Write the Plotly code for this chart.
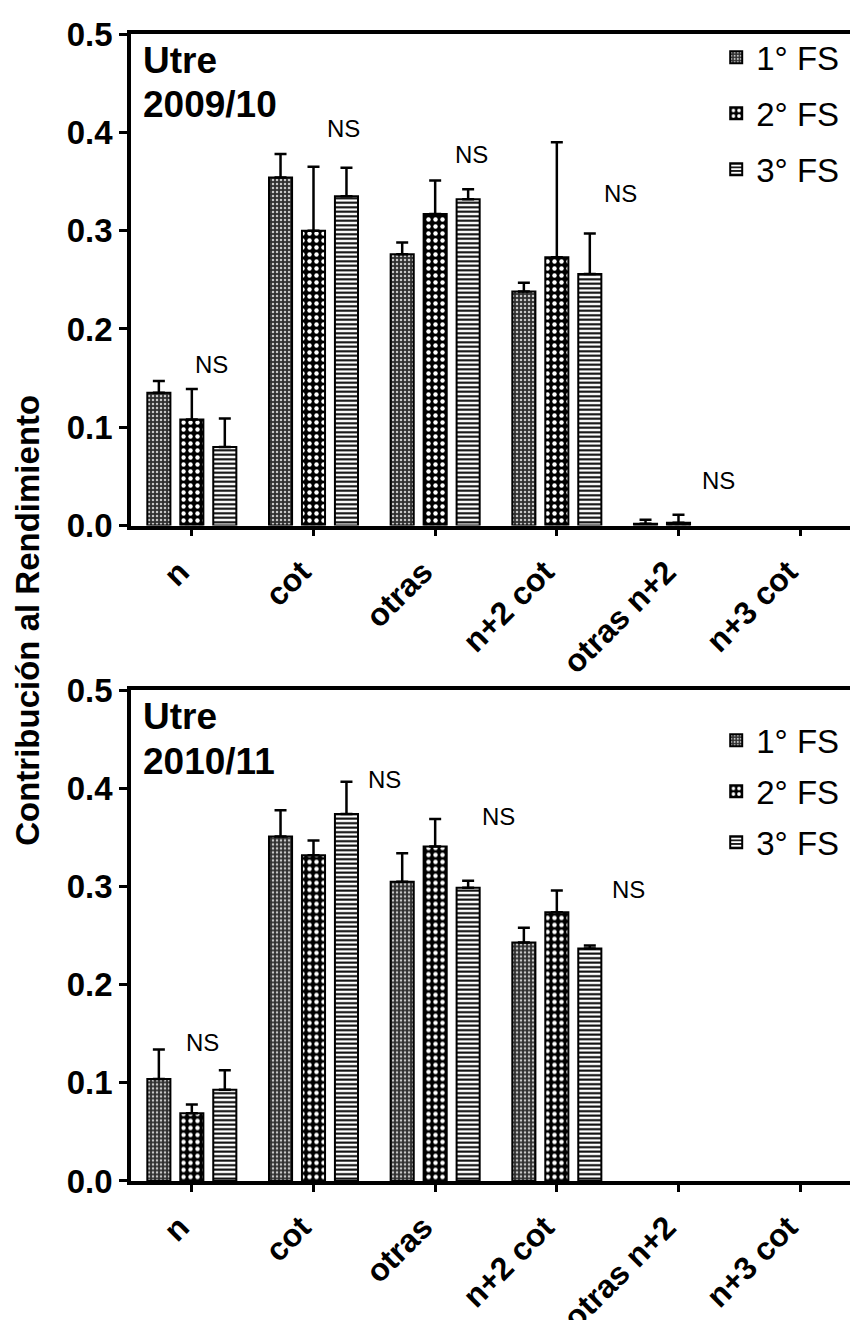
import numpy as np
import plotly.graph_objects as go
from plotly.subplots import make_subplots

categories = ["n", "cot", "otras", "n+2 cot", "otras n+2", "n+3 cot"]
series_names = ["1° FS", "2° FS", "3° FS"]

# Utre 2009/10  (None = no visible bar / error bar)
fs1_0910 = [0.135, 0.354, 0.276, 0.238, 0.002, None]
fs1_0910_err = [0.012, 0.024, 0.012, 0.009, 0.004, None]
fs2_0910 = [0.108, 0.300, 0.317, 0.273, 0.003, None]
fs2_0910_err = [0.031, 0.065, 0.034, 0.117, 0.008, None]
fs3_0910 = [0.080, 0.335, 0.332, 0.256, None, None]
fs3_0910_err = [0.029, 0.029, 0.010, 0.041, None, None]

# Utre 2010/11
fs1_1011 = [0.104, 0.351, 0.305, 0.243, None, None]
fs1_1011_err = [0.030, 0.027, 0.029, 0.015, None, None]
fs2_1011 = [0.069, 0.332, 0.341, 0.274, None, None]
fs2_1011_err = [0.009, 0.015, 0.028, 0.022, None, None]
fs3_1011 = [0.093, 0.374, 0.299, 0.237, None, None]
fs3_1011_err = [0.020, 0.033, 0.007, 0.003, None, None]

panel_site = ["Utre", "Utre"]
panel_season = ["2009/10", "2010/11"]
y_ticks = [0.0, 0.1, 0.2, 0.3, 0.4, 0.5]

# "NS" label positions (category offset, y value)
ns_0910_x = [0.16, 1.25, 2.30, 3.52, 4.33]
ns_0910_y = [0.164, 0.404, 0.377, 0.338, 0.046]
ns_1011_x = [0.09, 1.58, 2.52, 3.59]
ns_1011_y = [0.141, 0.409, 0.371, 0.297]

FONT = "Liberation Sans, Arial, sans-serif"

patterns = [
    dict(shape=".", fgcolor="#c8c8c8", bgcolor="#303030", size=4, solidity=0.3, fillmode="replace"),
    dict(shape=".", fgcolor="#ffffff", bgcolor="#000000", size=7, solidity=0.32, fillmode="replace"),
    dict(shape="-", fgcolor="#000000", bgcolor="#ffffff", size=4.5, solidity=0.45, fillmode="replace"),
]

panels = [
    ([fs1_0910, fs2_0910, fs3_0910], [fs1_0910_err, fs2_0910_err, fs3_0910_err]),
    ([fs1_1011, fs2_1011, fs3_1011], [fs1_1011_err, fs2_1011_err, fs3_1011_err]),
]

fig = make_subplots(rows=2, cols=1, vertical_spacing=0.0)

xpos = list(range(len(categories)))

for p, (vals_list, errs_list) in enumerate(panels):
    for i, (vals, errs) in enumerate(zip(vals_list, errs_list)):
        yv = [np.nan if v is None else v for v in vals]
        err_plus = [np.nan if e is None else e for e in errs]
        err_minus = [0 for _ in errs]
        fig.add_trace(
            go.Bar(
                x=xpos,
                y=yv,
                name=series_names[i],
                legend="legend" if p == 0 else "legend2",
                legendgroup=f"g{p}{i}",
                marker=dict(pattern=patterns[i], line=dict(color="#000000", width=2)),
                error_y=dict(type="data", symmetric=False, array=err_plus,
                             arrayminus=err_minus, color="#000000",
                             thickness=2.5, width=6),
            ),
            row=p + 1, col=1,
        )

axis_common = dict(showline=True, linecolor="#000000", linewidth=3.5, mirror=True,
                   showgrid=False, zeroline=False, ticks="outside", tickwidth=3,
                   tickcolor="#000000", automargin=False)

for r in (1, 2):
    fig.update_xaxes(
        **axis_common,
        tickvals=xpos, ticktext=categories, range=[-0.5, 5.5], ticklen=7,
        tickangle=-45, ticklabelstandoff=4, ticklabelshift=-12,
        tickfont=dict(family=FONT, size=32, color="#000000", weight="bold"),
        row=r, col=1,
    )
    fig.update_yaxes(
        **axis_common,
        range=[0, 0.5], tickvals=y_ticks, ticktext=[f"{v:.1f}" for v in y_ticks],
        ticklen=8,
        tickfont=dict(family=FONT, size=33, color="#000000", weight="bold"),
        row=r, col=1,
    )

top_dom = [0.5714, 1.0]
bot_dom = [0.0, 0.4277]
fig.update_layout(
    yaxis=dict(domain=top_dom),
    yaxis2=dict(domain=bot_dom),
)

annotations = []
for p, (xr, yr) in enumerate([("x", "y"), ("x2", "y2")]):
    for txt, yy in [(panel_site[p], 0.947), (panel_season[p], 0.856)]:
        annotations.append(dict(
            text=txt, xref=f"{xr} domain", yref=f"{yr} domain",
            x=0.014, y=yy, xanchor="left", yanchor="middle", align="left",
            showarrow=False,
            font=dict(family=FONT, size=37, color="#000000", weight="bold"),
        ))
for xs, ys, xr, yr in [(ns_0910_x, ns_0910_y, "x", "y"), (ns_1011_x, ns_1011_y, "x2", "y2")]:
    for xv, yv in zip(xs, ys):
        annotations.append(dict(
            text="NS", x=xv, y=yv, xref=xr, yref=yr, showarrow=False,
            font=dict(family=FONT, size=24, color="#000000"),
        ))
annotations.append(dict(
    text="Contribución al Rendimiento", xref="paper", yref="paper",
    x=-0.142, y=0.4887, xanchor="center", yanchor="middle", textangle=-90,
    showarrow=False,
    font=dict(family=FONT, size=33, color="#000000", weight="bold"),
))

legend_common = dict(
    xanchor="right", yanchor="top", x=0.977,
    bgcolor="rgba(0,0,0,0)",
    font=dict(family=FONT, size=33, color="#000000"),
)

fig.update_layout(
    width=858, height=1320,
    margin=dict(l=123, r=5, t=26, b=147, autoexpand=False),
    paper_bgcolor="#ffffff", plot_bgcolor="#ffffff",
    barmode="group", bargap=0.187, bargroupgap=0.3,
    showlegend=True,
    legend=dict(**legend_common, y=1.004, tracegroupgap=10),
    legend2=dict(**legend_common, y=0.4277 - 22 / 1148, tracegroupgap=5),
    annotations=annotations,
    font=dict(family=FONT, color="#000000"),
)

fig.write_html("out.html")
